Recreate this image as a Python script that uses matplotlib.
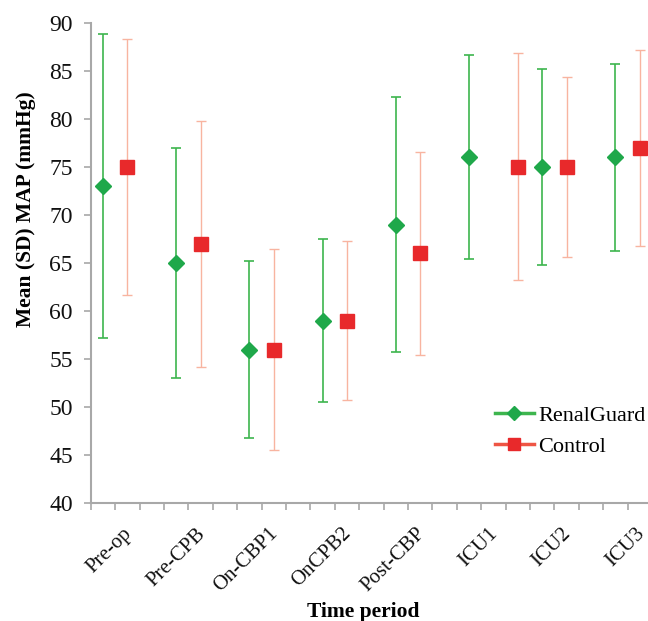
import matplotlib.pyplot as plt
from matplotlib.lines import Line2D
import numpy as np

plt.rcParams['font.family'] = ['Liberation Serif', 'DejaVu Serif']

periods = ['Pre-op', 'Pre-CPB', 'On-CBP1', 'OnCPB2', 'Post-CBP', 'ICU1', 'ICU2', 'ICU3']
renal_mean = [73, 65, 56, 59, 69, 76, 75, 76]
renal_sd = [15.8, 12.0, 9.2, 8.5, 13.3, 10.6, 10.2, 9.7]
ctrl_mean = [75, 67, 56, 59, 66, 75, 75, 77]
ctrl_sd = [13.3, 12.8, 10.5, 8.3, 10.6, 11.8, 9.4, 10.2]

# category slots on the (Excel-style) 23-slot axis
renal_cat = [0, 3, 6, 9, 12, 15, 18, 21]
ctrl_cat = [1, 4, 7, 10, 13, 17, 19, 22]
label_cat = [1, 4, 7, 10, 13, 16, 19, 22]
n_cat = 23

green = '#1FA84A'
green_bar = '#3DB54E'
red = '#E8292B'
salmon = '#F8B4A0'
grey = '#A8A8A8'

fig = plt.figure(figsize=(6.48, 6.21), dpi=100)
ax = fig.add_axes([90.7 / 648, 117.7 / 621, 561.2 / 648, 480.6 / 621])

ax.errorbar(np.array(renal_cat) + 0.5, renal_mean, yerr=renal_sd, fmt='none',
            ecolor=green_bar, elinewidth=1.2, capsize=3.3, capthick=1.2, zorder=2)
ax.errorbar(np.array(ctrl_cat) + 0.5, ctrl_mean, yerr=ctrl_sd, fmt='none',
            ecolor=salmon, elinewidth=1.0, capsize=3.3, capthick=1.0, zorder=2)
ax.plot(np.array(renal_cat) + 0.5, renal_mean, linestyle='none', marker='D',
        markersize=8, color=green, zorder=3)
ax.plot(np.array(ctrl_cat) + 0.5, ctrl_mean, linestyle='none', marker='s',
        markersize=10.5, color=red, zorder=3)

ax.set_xlim(0, n_cat)
ax.set_ylim(40, 90)
ax.set_yticks(range(40, 91, 5))
ax.set_xticks(range(0, n_cat + 1))
ax.set_xticklabels([])
ax.set_xticks(np.array(label_cat) + 0.3, minor=True)
ax.set_xticklabels(periods, minor=True, rotation=45, ha='right',
                   rotation_mode='anchor', fontsize=15, color='#111111')

ax.tick_params(axis='x', which='major', direction='out', length=5, width=1.2, color=grey)
ax.tick_params(axis='x', which='minor', length=0, pad=15)
ax.tick_params(axis='y', direction='out', length=5, width=1.2, color=grey,
               labelsize=17, labelcolor='#111111', pad=8)

for s in ['top', 'right']:
    ax.spines[s].set_visible(False)
for s in ['left', 'bottom']:
    ax.spines[s].set_color(grey)
    ax.spines[s].set_linewidth(1.5)

ax.set_ylabel('Mean (SD) MAP (mmHg)', fontsize=15.5, fontweight='bold')
ax.yaxis.set_label_coords(-0.098, 0.613)
ax.set_xlabel('Time period', fontsize=15.5, fontweight='bold')
ax.xaxis.set_label_coords(0.485, -0.205)

handles = [
    Line2D([], [], color=green_bar, lw=2.5, marker='D', markersize=7, markerfacecolor=green,
           markeredgecolor=green),
    Line2D([], [], color='#EE5544', lw=2.5, marker='s', markersize=9, markerfacecolor=red,
           markeredgecolor=red),
]
ax.legend(handles, ['RenalGuard', 'Control'], loc='upper left',
          bbox_to_anchor=(495 / 648, 1 - 405 / 621), bbox_transform=fig.transFigure,
          frameon=False, fontsize=16, handlelength=1.75, handletextpad=0.2,
          labelspacing=0.5, borderpad=0, borderaxespad=0)

fig.savefig('out.png', dpi=100)
